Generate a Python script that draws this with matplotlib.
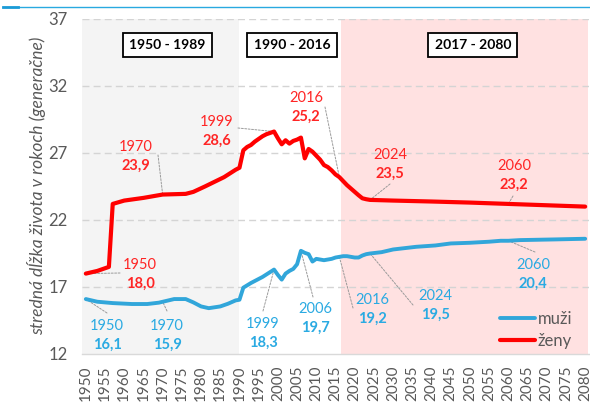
import numpy as np
import matplotlib
matplotlib.use("Agg")
import matplotlib.pyplot as plt
from matplotlib.lines import Line2D

plt.rcParams['font.family'] = ['Lato', 'DejaVu Sans']

# ---------------- data ----------------
women_years = [1950, 1953, 1956, 1957, 1960, 1965, 1970, 1976, 1978, 1981, 1986, 1989, 1990,
               1991, 1992, 1993, 1994, 1995, 1996, 1997, 1998, 1999, 2000, 2001, 2002, 2003,
               2004, 2005, 2006, 2007, 2008, 2009, 2010, 2011, 2012, 2013, 2014, 2015, 2016,
               2017, 2018, 2019, 2020, 2021, 2022, 2023, 2024, 2030, 2040, 2050, 2060, 2070, 2080]
women_vals = [18.0, 18.2, 18.5, 23.2, 23.45, 23.65, 23.9, 23.95, 24.1, 24.5, 25.2, 25.75, 25.9,
              27.2, 27.45, 27.6, 27.85, 28.05, 28.25, 28.4, 28.5, 28.6, 28.1, 27.65, 27.95, 27.7,
              27.9, 28.0, 28.15, 26.6, 27.3, 27.1, 26.8, 26.5, 26.1, 25.95, 25.7, 25.4, 25.2,
              24.9, 24.6, 24.35, 24.1, 23.85, 23.62, 23.55, 23.5, 23.45, 23.38, 23.3, 23.2, 23.1, 23.0]

men_years = [1950, 1953, 1957, 1962, 1966, 1969, 1973, 1976, 1978, 1980, 1982, 1985, 1987, 1989,
             1990, 1991, 1993, 1996, 1999, 2000, 2001, 2002, 2003, 2004, 2005, 2006, 2007, 2008,
             2009, 2010, 2011, 2012, 2013, 2014, 2015, 2016, 2017, 2018, 2019, 2020, 2021, 2022,
             2023, 2024, 2027, 2030, 2036, 2041, 2045, 2050, 2055, 2058, 2060, 2063, 2072, 2080]
men_vals = [16.1, 15.9, 15.8, 15.73, 15.73, 15.83, 16.1, 16.1, 15.85, 15.55, 15.42, 15.55, 15.75, 16.0,
            16.05, 16.95, 17.3, 17.75, 18.3, 17.9, 17.55, 18.0, 18.2, 18.35, 18.7, 19.7, 19.55, 19.45,
            18.9, 19.1, 19.05, 19.0, 19.05, 19.1, 19.2, 19.25, 19.3, 19.3, 19.25, 19.2, 19.2, 19.35,
            19.45, 19.5, 19.6, 19.8, 20.0, 20.1, 20.25, 20.3, 20.38, 20.45, 20.45, 20.5, 20.55, 20.6]

women_label_years = [1950, 1970, 1999, 2016, 2024, 2060]
women_label_vals = [18.0, 23.9, 28.6, 25.2, 23.5, 23.2]
men_label_years = [1950, 1970, 1999, 2006, 2016, 2024, 2060]
men_label_vals = [16.1, 15.9, 18.3, 19.7, 19.2, 19.5, 20.4]

periods = ["1950 - 1989", "1990 - 2016", "2017 - 2080"]
x_ticks = list(range(1950, 2081, 5))
y_ticks = [12, 17, 22, 27, 32, 37]
legend_labels = ["muži", "ženy"]
y_label = "stredná dĺžka života v rokoch (generačne)"

# ---------------- style ----------------
RED = '#FF0000'
RED_T = '#FF2525'
BLUE = '#31A6DA'
BLUE_T = '#2AAAE2'
GRAY_T = '#595959'

W, H = 590, 403
fig = plt.figure(figsize=(W / 100, H / 100), dpi=100)
L, R, T, B = 82, 589, 19, 354
ax = fig.add_axes([L / W, 1 - B / H, (R - L) / W, (B - T) / H])
X0, X1 = 1949.0, 2081.0
ax.set_xlim(X0, X1)
ax.set_ylim(12, 37)


def px(x, y):
    """pixel -> data coords"""
    return (X0 + (x - L) / (R - L) * (X1 - X0), 12 + (B - y) / (B - T) * 25)


# shading
ax.axvspan(X0, 1989.8, color='#F4F4F4', zorder=0, lw=0)
ax.axvspan(2016.4, 2080.8, color='#FFE1E1', zorder=0, lw=0)

# grid
for yv in y_ticks[1:]:
    ax.axhline(yv, color='#D4D4D4', lw=1, dashes=(5, 3), zorder=1)

for s in ['top', 'right', 'left']:
    ax.spines[s].set_visible(False)
ax.spines['bottom'].set_color('#D9D9D9')
ax.spines['bottom'].set_linewidth(1)

ax.set_xticks(x_ticks)
ax.set_xticklabels([str(v) for v in x_ticks], rotation=90, fontsize=11, color=GRAY_T)
ax.set_yticks(y_ticks)
ax.set_yticklabels([str(v) for v in y_ticks], fontsize=12, color=GRAY_T)
ax.tick_params(axis='both', length=0)
ax.tick_params(axis='x', pad=8)
ax.tick_params(axis='y', pad=10.5)

# lines
lm, = ax.plot(men_years, men_vals, color=BLUE, lw=2.8, zorder=3, solid_capstyle='round',
              solid_joinstyle='round')
lw_, = ax.plot(women_years, women_vals, color=RED, lw=3.0, zorder=3, solid_capstyle='round',
               solid_joinstyle='round')

# labels: (year-text center px, leader start px)
women_pos = [((140, 265), (120, 273)),
             ((136, 147), (158, 155)),
             ((217, 122), (238, 128)),
             ((306, 98), (325, 107)),
             ((390, 155), (390, 184)),
             ((514, 166), (513, 196))]
men_pos = [((107, 326), (107, 313)),
           ((167, 326), (167, 311)),
           ((263, 324), (263, 311)),
           ((315, 309), (313, 297)),
           ((372, 300), (353, 308)),
           ((435, 296), (413, 305)),
           ((533, 265), (535, 252))]


def labels(yrs, vals, pos, sx, sy, col):
    for yr, v, (tp, lp) in zip(yrs, vals, pos):
        tx, ty = px(*tp)
        vx, vy = px(tp[0], tp[1] + 19)
        ax.text(tx, ty, str(yr), ha='center', va='center', fontsize=10.5, color=col, zorder=5)
        ax.text(vx, vy, f"{v:.1f}".replace('.', ','), ha='center', va='center', fontsize=10.5,
                color=col, fontweight='bold', zorder=5)
        py_ = np.interp(yr, sx, sy)
        ax.annotate('', xy=(yr, py_), xytext=px(*lp),
                    arrowprops=dict(arrowstyle='-', color='#9A9A9A', lw=0.7, ls=(0, (2, 1.5)),
                                    shrinkA=0, shrinkB=0), zorder=2)


labels(women_label_years, women_label_vals, women_pos, women_years, women_vals, RED_T)
labels(men_label_years, men_label_vals, men_pos, men_years, men_vals, BLUE_T)

# period boxes
for txt, cx in zip(periods, [167.5, 292, 473]):
    x, y = px(cx, 45)
    ax.text(x, y, txt, ha='center', va='center', fontsize=10, fontweight='bold', color='black',
            zorder=6, bbox=dict(boxstyle='square,pad=0.45', fc='white', ec='black', lw=1.3))

# legend
leg = ax.legend([lm, lw_], legend_labels, loc='upper left',
                bbox_to_anchor=((500 - L) / (R - L), (B - 311) / (B - T)),
                frameon=False, fontsize=12, handlelength=2.1, handletextpad=0.15,
                labelspacing=0.35, borderpad=0, borderaxespad=0)
for t in leg.get_texts():
    t.set_color(GRAY_T)

# y label
fig.text(37 / W, 1 - 186 / H, y_label, rotation=90, ha='center', va='center', fontsize=12.5,
         style='italic', color=GRAY_T)

# top decorative rule
fig.add_artist(Line2D([3 / W, 597 / W], [1 - 7 / H] * 2, color='#29A9E0', lw=1))
fig.add_artist(Line2D([3 / W, 18 / W], [1 - 7 / H] * 2, color='#1B9BD7', lw=2))

fig.savefig('out.png', dpi=100)
